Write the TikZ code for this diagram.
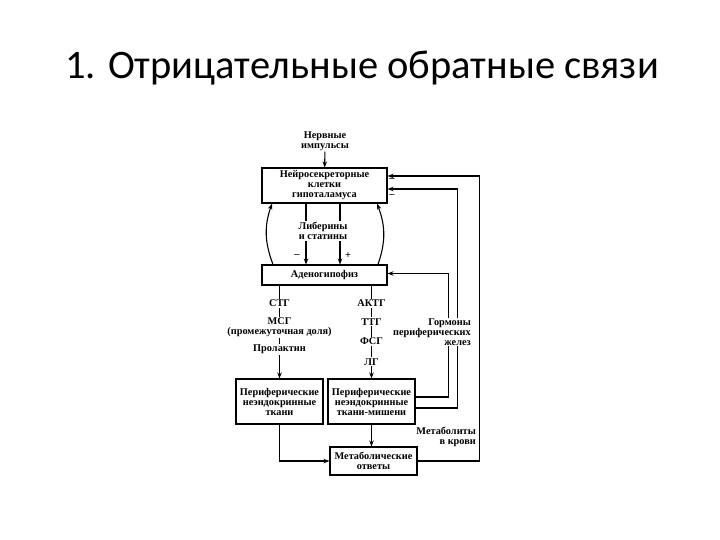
\documentclass[tikz,border=0pt]{standalone}
\usepackage{fontspec}
\setmainfont{Liberation Serif}
\newfontfamily\titlefont{Carlito}
\usetikzlibrary{arrows.meta, positioning, calc}

\begin{document}
\begin{tikzpicture}[x=1pt, y=-1pt,
        box/.style={draw, line width=1.1pt, align=center, inner sep=1pt, font=\bfseries\fontsize{10.3}{10}\selectfont},
        lbl/.style={align=center, inner sep=1pt, fill=white, font=\bfseries\fontsize{10.3}{10}\selectfont},
        arr/.style={-{Stealth[length=6pt, width=4.5pt]}, line width=1.1pt}]
        \useasboundingbox (0,0) rectangle (720,540);
        % Title
        \node[font=\titlefont\fontsize{40.5}{48}\selectfont] (title) at (362,68) {1. Отрицательные обратные связи};
        % Hypothalamus
        \node[box, minimum width=125, minimum height=35] (hypo) at (324.5,185.5) {Нейросекреторные\\клетки\\гипоталамуса};
        \node[lbl] (nerve) at (325,141) {Нервные\\импульсы};
        \draw[arr] (nerve) -- (hypo);
        % Adenohypophysis
        \node[box, minimum width=125, minimum height=20] (adeno) at (324.5,275) {Аденогипофиз};
        \draw[arr] ([xshift=-18.5pt]hypo.south) -- ([xshift=-18.5pt]adeno.north);
        \draw[arr] ([xshift=15.5pt]hypo.south) -- ([xshift=15.5pt]adeno.north);
        \node[lbl] (lib) at (323,231) {Либерины\\и статины};
        \node[lbl, fill=none] (minus) at (297,256) {–};
        \node[lbl, fill=none] (plus) at (348,256) {+};
        \draw[arr] ([xshift=-51.5pt]adeno.north) to[bend left=20] ([xshift=-52.5pt]hypo.south);
        \draw[arr] ([xshift=53.5pt]adeno.north) to[bend right=20] ([xshift=52.5pt]hypo.south);
        % Peripheral tissues
        \node[box, minimum width=87, minimum height=45] (tis) at (279.5,401.5) {Периферические\\неэндокринные\\ткани};
        \node[box, minimum width=87, minimum height=45] (target) at (371.5,401.5) {Периферические\\неэндокринные\\ткани-мишени};
        \node[box, minimum width=87, minimum height=28] (meta) at (373.5,461) {Метаболические\\ответы};
        \draw[arr] (adeno.south -| tis.north) -- node[lbl, pos=0.19] {СТГ}
            node[lbl, pos=0.45] {МСГ\\(промежуточная доля)}
            node[lbl, pos=0.69] {Пролактин} (tis.north);
        \draw[arr] (adeno.south -| target.north) -- node[lbl, pos=0.19] {АКТГ}
            node[lbl, pos=0.39] {ТТГ}
            node[lbl, pos=0.6] {ФСГ}
            node[lbl, pos=0.82] {ЛГ} (target.north);
        \draw[arr] (target) -- (target |- meta.north);
        \draw[arr] (tis.south) |- (meta.west);
        % Feedback
        \draw[arr] ([yshift=4.5pt]target.east) -- ++(33,0) |- ([yshift=1.5pt]adeno.east);
        \draw[arr] ([yshift=-6.5pt]target.east) -- ++(42,0) |- ([yshift=-3.5pt]hypo.east);
        \draw[arr] (meta.east) -- ++(62,0) |- ([yshift=9.5pt]hypo.east);
        \node[lbl, align=right, anchor=east] (horm) at (472,332) {Гормоны\\периферических\\желез};
        \node[lbl, align=right, anchor=east, fill=none] (metab) at (477,437) {Метаболиты\\в крови};
        \node[lbl, fill=none] (m1) at (392,180) {–};
        \node[lbl, fill=none] (m2) at (392,196) {–};
\end{tikzpicture}
\end{document}
